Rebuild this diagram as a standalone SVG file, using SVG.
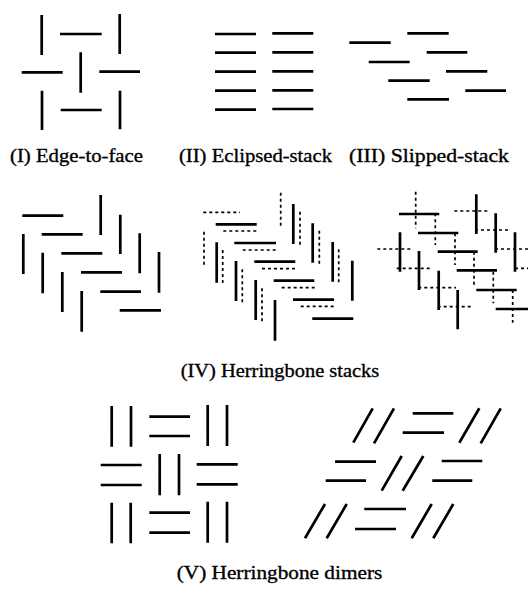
<svg xmlns="http://www.w3.org/2000/svg" width="528" height="593" viewBox="0 0 528 593">
<style>
.s{stroke:#000;stroke-width:2.7;fill:none;stroke-linecap:butt}
.d{stroke:#000;stroke-width:1.7;fill:none;stroke-dasharray:3 3}
.t{font-family:"Liberation Serif","Times New Roman",serif;font-size:19.5px;fill:#000;stroke:#000;stroke-width:0.35}
</style>
<rect width="528" height="593" fill="#fff"/>
<g id="edge-to-face">
<path class="s" d="M41.7 15V55M119.7 14V54M80.7 52.3V92.7M42 90.7V130M120 90.7V129.3M60 34H101.7M21.7 72.3H62.7M99.3 71.7H140M60.7 110H101.7"/>
<text class="t" x="10" y="162" textLength="133" lengthAdjust="spacingAndGlyphs">(I) Edge-to-face</text>
</g>
<g id="eclipsed-stack">
<path class="s" d="M215 34H256M215 52.7H256M215 71.7H256M215 90.7H256M215 109.7H256M272.3 33.3H313.3M272.3 52.3H313.3M272.3 71.3H313.3M272.3 90.3H313.3M272.3 109H313.3"/>
<text class="t" x="179" y="162" textLength="153" lengthAdjust="spacingAndGlyphs">(II) Eclipsed-stack</text>
</g>
<g id="slipped-stack">
<path class="s" d="M407.3 33.3H448.7M349.3 42.7H390.7M426.7 52.3H467.3M368.7 62H409.7M446 71.3H487.3M388.3 80.7H429.7M465.3 90.7H506M407.3 99.3H449"/>
<text class="t" x="349" y="162" textLength="160" lengthAdjust="spacingAndGlyphs">(III) Slipped-stack</text>
</g>
<g id="herringbone-a">
<path class="s" d="M22.3 215.7H63.3M41.7 234.3H82.7M61.3 253.3H102.3M81 272.3H122M100.3 291.7H141M119.7 310.3H161M23.3 234V274M42.7 252.7V293.3M62.3 272V312M81.7 291V331.7M100.7 195V235M120.3 214.7V254M139.7 233.3V273.3M159 252V292.7"/>
</g>
<g id="herringbone-b">
<path class="s" d="M215.7 224.3H256.7M234.3 243H276M254.3 261.7H295.3M273.7 280.7H314.3M293 299.7H334M312.3 318.7H353.3M216.7 242.3V282.7M236 261V301M255.7 280V320M275 300V340.7M293.3 204V244M312.7 223.3V262.7M332.7 242V281.7M352.3 260.7V300.7"/>
<path class="d" d="M203.3 212.3H240M223.3 231H259M242.7 250H278.3M262 268.7H297.7M281.7 287.7H316.7M300.7 306.3H336M204 231.7V265M222.7 250V284.3M242.3 269.3V303.3M262 288.3V322.7M280.7 192.7V227.3M300 211.7V246M319.3 230.7V265M338.7 249.3V284"/>
</g>
<g id="herringbone-c">
<path class="s" d="M399 214H439.3M418 233H458.3M437.7 251.7H477.7M456.7 270.3H497M476.3 290H516.7M495.7 309H536M400 232.3V271.7M419 251V290M438.7 270.7V310M457.7 290V329.3M476.3 194.3V234M495.7 213.3V252.7M515 232.3V271.7"/>
<path class="d" d="M415.7 191.7V228.3M435.3 213.3V245M455 233.3V265M474 251.7V285M493.3 271.7V303.3M512.7 290V322.7M377.3 249H412.3M396.7 268.3H432.7M418.3 287.7H456M437.7 306.7H471M454.3 211H490M475 230H508.3M495 249H528M515 268.3H548"/>
</g>
<text class="t" x="180.7" y="377" textLength="198.6" lengthAdjust="spacingAndGlyphs">(IV) Herringbone stacks</text>
<g id="dimers-a">
<path class="s" d="M111.7 406V446.7M131 406V446.7M149.3 416.7H190M149.3 436H190M207.7 405V446M227 405V446M100.7 465H141.7M100.7 485H141.7M159.7 454V495.3M179 454V495.3M196.7 464.3H237.7M196.7 484.3H237.7M111.7 502.7V543.3M130.7 502.7V543.3M149.3 512.7H190M149.3 532.7H190M207.7 501.7V542.7M227 501.7V542.7"/>
</g>
<g id="dimers-b">
<path class="s" d="M353.3 442.7L372.7 408.3M374 443.3L394 408.3M412.7 413.3H453.3M402.7 432.7H444M459.3 442.7L479.3 408.3M480.7 443.3L500.7 408.3M335 461.7H376M325.7 480.7H366M381.7 490.7L401.7 456M402.7 490.7L423.3 456M441.7 461H482.3M432.3 480.7H472.3M305 538.3L325 504M326.7 538.3L346.7 504M364.3 509H406M355 529H396M411.7 538.3L431.7 504M433.3 538.3L453.3 504"/>
</g>
<text class="t" x="176.7" y="579" textLength="205.6" lengthAdjust="spacingAndGlyphs">(V) Herringbone dimers</text>
</svg>
